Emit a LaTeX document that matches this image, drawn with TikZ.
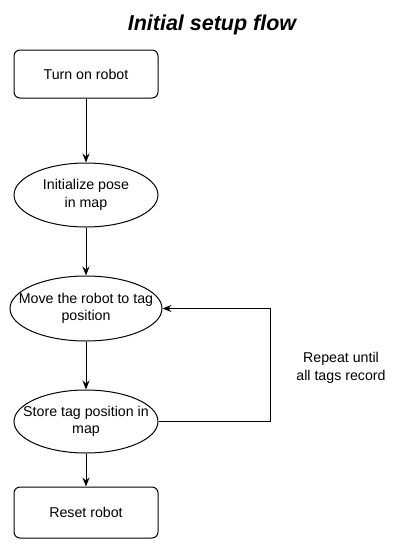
\documentclass[tikz,border=0pt]{standalone}
\usepackage{fontspec}
\setmainfont{Liberation Sans}
\usetikzlibrary{shapes.geometric,arrows.meta}
\begin{document}
\begin{tikzpicture}[x=1pt,y=-1pt,
  every node/.style={font=\fontsize{14.2}{17.5}\selectfont},
  procbox/.style={draw, rounded corners=6pt, minimum width=144pt, minimum height=48pt, line width=1pt, align=center, inner sep=0pt},
  ovalbox/.style={draw, ellipse, line width=1pt, inner sep=0pt},
  ovaltext/.style={align=center, inner sep=0pt},
  flow/.style={line width=1pt, -{Stealth[length=9pt,width=7pt,inset=3pt]}}]
\useasboundingbox (0,0) rectangle (402,550);
\node[font=\fontsize{21.5}{24}\selectfont\bfseries\itshape] (title) at (212,25) {Initial setup flow};
\node[procbox] (turn) at (86,74) {Turn on robot};
\node[ovalbox, minimum width=144pt, minimum height=64pt] (init) at (86,195) {};
\node[ovaltext] (initt) at (init.center) {Initialize pose\\in map};
\node[ovalbox, minimum width=152pt, minimum height=65pt] (move) at (86,308.5) {};
\node[ovaltext] (movet) at (move.center) {Move the robot to tag\\position};
\node[ovalbox, minimum width=144pt, minimum height=63pt] (store) at (86,421.5) {};
\node[ovaltext] (storet) at (store.center) {Store tag position in\\map};
\node[procbox, minimum height=51pt] (reset) at (86,512.5) {Reset robot};
\node[align=center] (rep) at (341,368) {Repeat until\\all tags record};
\coordinate (c1) at (270,421.5);
\coordinate (c2) at (270,308.5);
\draw[flow] (turn) -- (init);
\draw[flow] (init) -- (move);
\draw[flow] (move) -- (store);
\draw[flow] (store) -- (reset);
\draw[flow] (store.east) -- (c1) -- (c2) -- (move.east);
\end{tikzpicture}
\end{document}
